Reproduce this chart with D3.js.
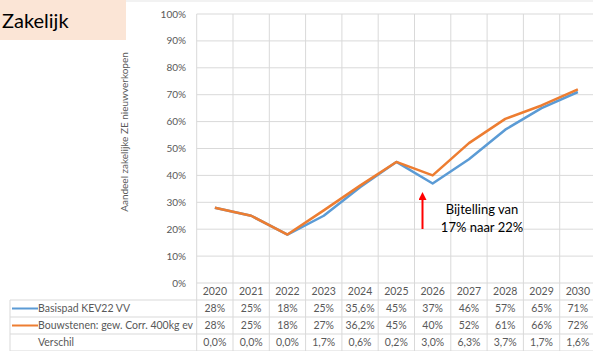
<!DOCTYPE html>
<html>
<head>
<meta charset="utf-8">
<script src="https://cdn.jsdelivr.net/npm/d3@7"></script>
<style>
  body { margin: 0; background: #fff; }
  svg { display: block; font-family: Lato, "Open Sans", sans-serif; }
</style>
</head>
<body>
<script>
const years = [2020, 2021, 2022, 2023, 2024, 2025, 2026, 2027, 2028, 2029, 2030]
const basispad = [28, 25, 18, 25, 35.6, 45, 37, 46, 57, 65, 71]
const bouwstenen = [28, 25, 18, 27, 36.2, 45, 40, 52, 61, 66, 72]
const basispadLabels = ["28%", "25%", "18%", "25%", "35,6%", "45%", "37%", "46%", "57%", "65%", "71%"]
const bouwstenenLabels = ["28%", "25%", "18%", "27%", "36,2%", "45%", "40%", "52%", "61%", "66%", "72%"]
const verschilLabels = ["0,0%", "0,0%", "0,0%", "1,7%", "0,6%", "0,2%", "3,0%", "6,3%", "3,7%", "1,7%", "1,6%"]
const yTicks = [0, 10, 20, 30, 40, 50, 60, 70, 80, 90, 100]

const w = 593
const h = 351
const plotLeft = 196.7
const plotRight = 596
const plotTop = 14
const plotBottom = 283
const rowH = 17
const grid = "#d9d9d9"
const textCol = "#595959"

const svg = d3.select("body").append("svg")
  .attr("width", w)
  .attr("height", h)

svg.append("rect").attr("x", 0).attr("y", 0).attr("width", w).attr("height", 2).attr("fill", "#f2f2f2")

// title box
svg.append("rect")
  .attr("x", 0).attr("y", 0)
  .attr("width", 126).attr("height", 40)
  .attr("fill", "#fbe5d6")
svg.append("text")
  .attr("x", 2).attr("y", 28)
  .attr("font-size", 20)
  .attr("fill", "#000")
  .text("Zakelijk")

const x = d3.scaleBand().domain(years).range([plotLeft, plotRight])
const y = d3.scaleLinear().domain([0, 100]).range([plotBottom, plotTop])
const bw = x.bandwidth()

// horizontal gridlines
svg.selectAll(".hgrid")
  .data(yTicks)
  .enter()
  .append("line")
  .attr("x1", plotLeft).attr("x2", plotRight)
  .attr("y1", d => y(d)).attr("y2", d => y(d))
  .attr("stroke", grid).attr("stroke-width", 1)

// vertical gridlines (plot + table)
const tableBottom = plotBottom + rowH * 4
svg.selectAll(".vgrid")
  .data(years.concat(["end"]))
  .enter()
  .append("line")
  .attr("x1", d => d === "end" ? plotRight : x(d))
  .attr("x2", d => d === "end" ? plotRight : x(d))
  .attr("y1", plotTop).attr("y2", tableBottom)
  .attr("stroke", grid).attr("stroke-width", 1)

// y tick labels
svg.selectAll(".ytick")
  .data(yTicks)
  .enter()
  .append("text")
  .attr("x", 186)
  .attr("y", d => y(d) + 3.5)
  .attr("text-anchor", "end")
  .attr("font-size", 10)
  .attr("fill", textCol)
  .text(d => d + "%")

// y axis title
svg.append("text")
  .attr("transform", "translate(128,132) rotate(-90)")
  .attr("text-anchor", "middle")
  .attr("font-size", 10)
  .attr("fill", textCol)
  .text("Aandeel zakelijke ZE nieuwverkopen")

// table horizontal lines
const rowLines = [1, 2, 3, 4]
svg.selectAll(".rowline")
  .data(rowLines)
  .enter()
  .append("line")
  .attr("x1", 10).attr("x2", plotRight)
  .attr("y1", d => plotBottom + rowH * d).attr("y2", d => plotBottom + rowH * d)
  .attr("stroke", grid).attr("stroke-width", 1)
svg.append("line")
  .attr("x1", 10).attr("x2", 10)
  .attr("y1", plotBottom + rowH).attr("y2", tableBottom)
  .attr("stroke", grid)

// year header
svg.selectAll(".year")
  .data(years)
  .enter()
  .append("text")
  .attr("x", d => x(d) + bw / 2)
  .attr("y", plotBottom + rowH / 2 + 3.8)
  .attr("text-anchor", "middle")
  .attr("font-size", 10.5)
  .attr("fill", textCol)
  .text(d => d)

const rows = [
  { name: "Basispad KEV22 VV", labels: basispadLabels, color: "#5b9bd5" },
  { name: "Bouwstenen: gew. Corr. 400kg ev", labels: bouwstenenLabels, color: "#ed7d31" },
  { name: "Verschil", labels: verschilLabels, color: null }
]

rows.forEach((r, i) => {
  const cy = plotBottom + rowH * (i + 1) + rowH / 2
  if (r.color) {
    svg.append("line")
      .attr("x1", 12).attr("x2", 38)
      .attr("y1", cy).attr("y2", cy)
      .attr("stroke", r.color).attr("stroke-width", 2)
  }
  svg.append("text")
    .attr("x", 38).attr("y", cy + 3.8)
    .attr("font-size", 10.5)
    .attr("fill", textCol)
    .text(r.name)
  svg.selectAll(".cell" + i)
    .data(r.labels)
    .enter()
    .append("text")
    .attr("x", (d, j) => x(years[j]) + bw / 2)
    .attr("y", cy + 3.8)
    .attr("text-anchor", "middle")
    .attr("font-size", 10.5)
    .attr("fill", textCol)
    .text(d => d)
})

// lines
const line = d3.line()
  .x((d, i) => x(years[i]) + bw / 2)
  .y(d => y(d))

svg.append("path")
  .datum(basispad)
  .attr("d", line)
  .attr("fill", "none")
  .attr("stroke", "#5b9bd5")
  .attr("stroke-width", 2.5)
  .attr("stroke-linejoin", "round")

svg.append("path")
  .datum(bouwstenen)
  .attr("d", line)
  .attr("fill", "none")
  .attr("stroke", "#ed7d31")
  .attr("stroke-width", 2.5)
  .attr("stroke-linejoin", "round")

// annotation arrow
const ax = x(2026) + 8
svg.append("defs").append("marker")
  .attr("id", "head")
  .attr("viewBox", "0 0 10 10")
  .attr("refX", 5).attr("refY", 5)
  .attr("markerWidth", 4).attr("markerHeight", 4)
  .attr("orient", "auto")
  .append("path")
  .attr("d", "M0,0 L10,5 L0,10 z")
  .attr("fill", "#ff0000")

svg.append("line")
  .attr("x1", ax).attr("x2", ax)
  .attr("y1", 229).attr("y2", 196)
  .attr("stroke", "#ff0000")
  .attr("stroke-width", 2)
  .attr("marker-end", "url(#head)")

svg.append("text")
  .attr("x", 482).attr("y", 214)
  .attr("text-anchor", "middle")
  .attr("font-size", 13)
  .attr("fill", "#000")
  .text("Bijtelling van")
svg.append("text")
  .attr("x", 482).attr("y", 232)
  .attr("text-anchor", "middle")
  .attr("font-size", 13)
  .attr("fill", "#000")
  .text("17% naar 22%")
</script>
</body>
</html>
